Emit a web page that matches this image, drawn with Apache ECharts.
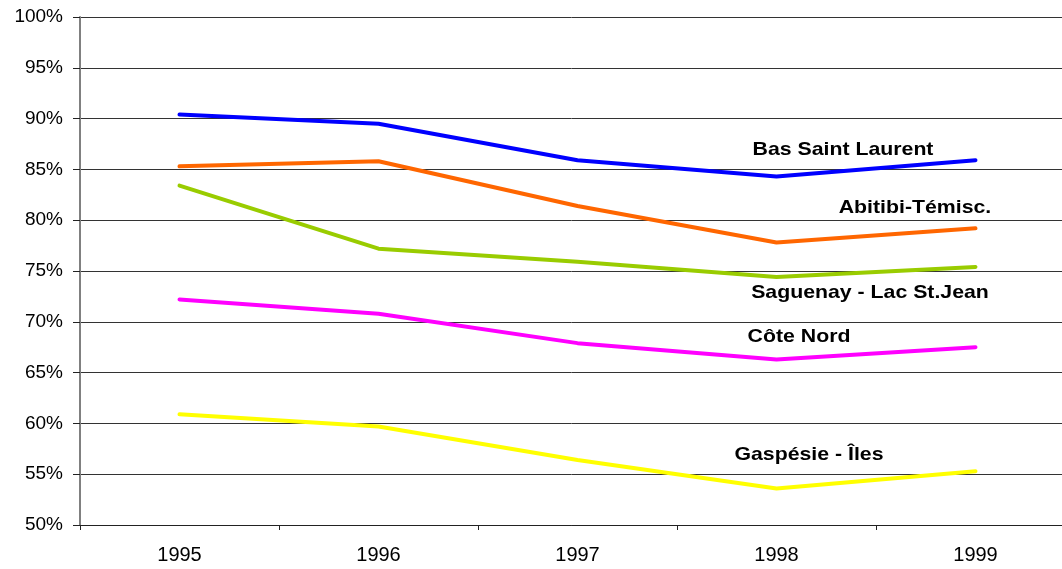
<!DOCTYPE html>
<html>
<head>
<meta charset="utf-8">
<script src="https://cdn.jsdelivr.net/npm/echarts@6/dist/echarts.min.js"></script>
<style>
  html,body{margin:0;padding:0;background:#fff;}
  #chart{width:1062px;height:569px;}
</style>
</head>
<body>
<div id="chart"></div>
<script>
// categories and values (percent)
const years = ['1995', '1996', '1997', '1998', '1999']
const basSaintLaurent = [90.4, 89.5, 85.9, 84.3, 85.9]
const abitibi = [85.3, 85.8, 81.4, 77.8, 79.2]
const saguenay = [83.4, 77.2, 75.9, 74.4, 75.4]
const coteNord = [72.2, 70.8, 67.9, 66.3, 67.5]
const gaspesie = [60.9, 59.7, 56.4, 53.6, 55.3]

const chart = echarts.init(document.getElementById('chart'))

// helper for one line series
function line(name, data, color) {
  return {
    name: name,
    type: 'line',
    data: data,
    symbol: 'none',
    smooth: false,
    lineStyle: { color: color, width: 4, cap: 'round', join: 'round' },
    itemStyle: { color: color }
  }
}

// text labels beside the lines (slightly stretched like the original)
function label(text, x, y) {
  return {
    type: 'text',
    x: x,
    y: y,
    scaleX: 1.12,
    style: {
      text: text,
      font: 'bold 19px "Liberation Sans", Arial, sans-serif',
      fill: '#000',
      align: 'center',
      verticalAlign: 'middle'
    }
  }
}

chart.setOption({
  animation: false,
  grid: {
    left: 80,
    top: 17,
    width: 995,
    height: 508,
    outerBoundsMode: 'none'
  },
  xAxis: {
    type: 'category',
    data: years,
    boundaryGap: true,
    axisLine: { lineStyle: { color: '#222', width: 1 } },
    axisTick: { show: true, length: 5, lineStyle: { color: '#222' } },
    axisLabel: {
      margin: 20,
      color: '#000',
      fontSize: 20,
      fontFamily: '"Liberation Sans", Arial, sans-serif'
    }
  },
  yAxis: {
    type: 'value',
    min: 50,
    max: 100,
    interval: 5,
    axisLine: { show: true, lineStyle: { color: '#808080', width: 2 } },
    axisTick: { show: true, inside: false, length: 7, lineStyle: { color: '#222' } },
    splitLine: { lineStyle: { color: '#333', width: 1 } },
    axisLabel: {
      margin: 17,
      color: '#000',
      fontSize: 19,
      fontFamily: '"Liberation Sans", Arial, sans-serif',
      formatter: '{value}%'
    }
  },
  series: [
    line('Bas Saint Laurent', basSaintLaurent, '#0000FF'),
    line('Abitibi-Témisc.', abitibi, '#FF6600'),
    line('Saguenay - Lac St.Jean', saguenay, '#99CC00'),
    line('Côte Nord', coteNord, '#FF00FF'),
    line('Gaspésie - Îles', gaspesie, '#FFFF00')
  ],
  graphic: [
    label('Bas Saint Laurent', 843, 150),
    label('Abitibi-Témisc.', 915, 208),
    label('Saguenay - Lac St.Jean', 870, 293),
    label('Côte Nord', 799, 337),
    label('Gaspésie - Îles', 809, 455)
  ]
})
</script>
</body>
</html>
